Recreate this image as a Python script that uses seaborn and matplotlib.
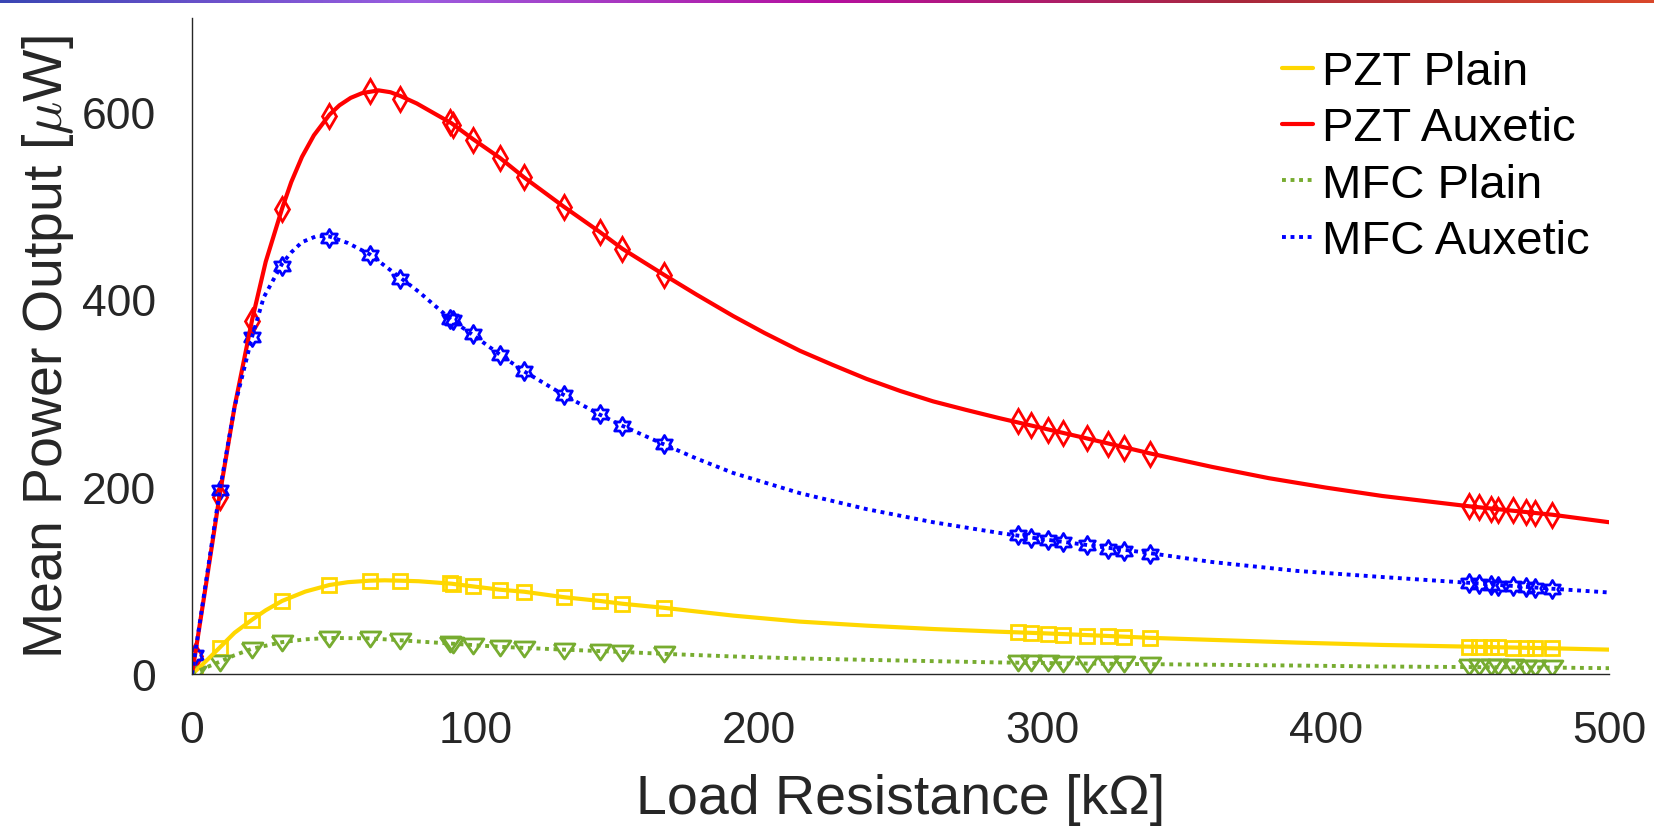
import numpy as np
import pandas as pd
import matplotlib
matplotlib.use("Agg")
import matplotlib.pyplot as plt
from matplotlib.colors import LinearSegmentedColormap
from matplotlib.path import Path
import seaborn as sns

# measured load resistances [kOhm]
r_meas = [1, 9.7, 21.2, 31.8, 48.5, 62.7, 73.5, 91, 92, 99.1, 108.6, 117.2, 131.1, 143.8, 151.8, 166.6,
          291.6, 296.2, 301.9, 307.4, 315.7, 323.1, 328.8, 338,
          450.7, 454.2, 458.3, 460.9, 466.2, 470.6, 473.9, 480]

# measured mean power [uW]
pzt_plain_meas = [2.5, 28, 58, 78, 95, 99.6, 99.6, 96.6, 96.2, 93.5, 90, 87.8, 82, 78, 75, 70.6,
                  44.5, 43.7, 43, 41.9, 40.8, 40.2, 39.8, 38.4,
                  29, 29, 28.3, 28.3, 27.9, 27.9, 27.6, 27.3]
pzt_aux_meas = [19.4, 188.5, 377, 496, 596, 622, 614, 589, 586, 570, 551, 530, 499, 472, 454, 426,
                270.2, 265.9, 260.5, 257.7, 251.6, 245.5, 241.6, 235.2,
                179.4, 178.4, 176.6, 175.5, 174.8, 173, 172, 170.1]
mfc_plain_meas = [0.5, 12, 26, 33, 37.5, 37, 35, 31.5, 31.2, 29.5, 28, 26.8, 25, 23, 22.3, 20.8,
                  11.8, 11.6, 11.3, 11.0, 10.7, 10.4, 10.2, 9.9,
                  7.4, 7.3, 7.2, 7.1, 7.0, 6.9, 6.8, 6.7]
mfc_aux_meas = [20, 196, 360, 436, 465, 447, 422, 379, 377.5, 362.5, 340, 323, 298, 277, 264.5, 245,
                148, 145.2, 143, 140.9, 137.3, 133, 131.3, 128.4,
                97.3, 96.2, 95.1, 94.4, 93.7, 92.7, 91.6, 90.9]

# fitted curves
pzt_plain_r = [0, 1, 5, 9.7, 15, 21.2, 26, 31.8, 40, 48.5, 55, 62.7, 68, 73.5, 80, 91.5, 99.1, 108.6, 117.2,
               131.1, 143.8, 151.8, 166.6, 191, 214.5, 238, 261.5, 285, 300, 320, 338, 360, 390, 420, 450, 480, 500]
pzt_plain_p = [0, 2.5, 14, 28, 44, 58, 68, 78, 88, 95, 98, 99.6, 100, 99.6, 99, 96.4, 93.5, 90, 87.8,
               82, 78, 75, 70.6, 62.3, 55.9, 51.6, 48, 45.1, 43.5, 41, 38.6, 36.4, 33.5, 31, 29.2, 27.4, 26]

pzt_aux_r = [0, 1, 5, 9.7, 15, 21.2, 26, 31.8, 35, 38.8, 43, 48.5, 52, 56, 60, 65.8, 70, 73.5, 79.3,
             91.5, 99.1, 108.6, 117.2, 131.1, 143.8, 151.8, 166.6, 178, 191, 202, 214.5, 226, 238, 250,
             261.5, 273, 285, 300, 315.7, 338, 360, 380, 400, 420, 450.7, 480, 500]
pzt_aux_p = [0, 19, 97, 190, 285, 378, 440, 497, 525, 552, 575, 597, 607, 615, 620, 623, 621, 617, 609,
             588, 571, 551, 530, 499, 472, 454, 426, 405, 382, 364, 345, 330, 315, 302,
             291, 282, 273, 262.5, 251.5, 235.5, 221, 209, 199, 190, 179, 170, 162]

mfc_plain_r = [0, 1, 5, 9.7, 15, 21.2, 31.8, 40, 48.5, 62.7, 73.5, 91, 108.6, 131.1, 151.8, 166.6,
               191, 214.5, 238, 261.5, 285, 320, 355, 390, 420, 450, 480, 500]
mfc_plain_p = [0, 1.5, 7, 13, 20, 27, 34, 37, 38.5, 38, 36, 32.5, 29, 26, 23.5, 21.5,
               18.7, 16.6, 15.1, 13.7, 12.3, 11, 10, 9, 8, 7.4, 6.8, 6.2]

mfc_aux_r = [0, 1, 5, 9.7, 15, 21.2, 25.3, 31.8, 35, 38.8, 44, 48.5, 55, 62.7, 73.5, 80, 91.5, 99.1, 108.6,
             117.2, 131.1, 143.8, 151.8, 166.6, 178, 191, 214.5, 238, 261.5, 285, 300, 320, 338, 360, 390,
             420, 450.7, 480, 500]
mfc_aux_p = [0, 20, 100, 194, 285, 360, 402, 438, 450, 461, 467.5, 467, 460, 448, 423, 408, 378, 362, 341,
             323, 298, 277, 265, 245, 230, 214.5, 193, 176, 162, 150.5, 144, 136, 129, 119.5, 110,
             103.5, 97.3, 91, 87]

names = ["PZT Plain", "PZT Auxetic", "MFC Plain", "MFC Auxetic"]
colors = ["#FFD700", "#FF0000", "#77AC30", "#0000FF"]

sns.set_theme(style="white")
plt.rcParams["font.family"] = ["Liberation Sans", "DejaVu Sans"]
plt.rcParams["mathtext.fontset"] = "cm"
plt.rcParams["axes.edgecolor"] = "#262626"

fig = plt.figure(figsize=(16.54, 8.28), dpi=100)
ax = fig.add_axes([0.1161, 0.1848, 0.8567, 0.792])

hexagram = Path.unit_regular_star(6, 0.577)
tri_down = [(-1, 0.72), (1, 0.72), (0, -0.72), (-1, 0.72)]

# measured points
meas = [pzt_plain_meas, pzt_aux_meas, mfc_plain_meas, mfc_aux_meas]
marks = [("s", 9.5), ("d", 12.5), (tri_down, 15), (hexagram, 13)]
for vals, col, (mk, ms) in zip(meas, colors, marks):
    d = pd.DataFrame({"r": r_meas, "p": vals})
    sns.lineplot(data=d, x="r", y="p", ax=ax, estimator=None, sort=False,
                 linestyle="none", marker=mk, markersize=ms, markerfacecolor="none",
                 markeredgecolor=col, markeredgewidth=2.0, color=col)

# fitted curves
curves = [(pzt_plain_r, pzt_plain_p, "-", 3.0), (pzt_aux_r, pzt_aux_p, "-", 3.0),
          (mfc_plain_r, mfc_plain_p, (0, (1, 1.2)), 2.8), (mfc_aux_r, mfc_aux_p, (0, (1, 1.2)), 2.8)]
handles = []
for (rr, pp, ls, lw), col, nm in zip(curves, colors, names):
    d = pd.DataFrame({"r": rr, "p": pp})
    sns.lineplot(data=d, x="r", y="p", ax=ax, estimator=None, sort=False,
                 color=col, linestyle=ls, linewidth=lw)
    handles.append(ax.lines[-1])

ax.set_xlim(0, 500)
ax.set_ylim(0, 700)
ax.set_xticks([0, 100, 200, 300, 400, 500])
ax.set_yticks([0, 200, 400, 600])
ax.tick_params(axis="both", direction="out", length=10, width=1, color="#262626",
               labelsize=32, labelcolor="#262626", pad=16)
for s in ["top", "right"]:
    ax.spines[s].set_visible(False)
for s in ["left", "bottom"]:
    ax.spines[s].set_linewidth(1)

ax.set_xlabel("Load Resistance [kΩ]", fontsize=40, color="#262626", labelpad=16)
ax.set_ylabel(r"Mean Power Output [$\mu$W]", fontsize=40, color="#262626", labelpad=4)

leg = ax.legend(handles, names, loc="upper right", bbox_to_anchor=(1.0, 0.98),
                frameon=False, fontsize=34, handlelength=0.65, handletextpad=0.2,
                labelspacing=0.26, borderaxespad=0.2, borderpad=0.2)
for t in leg.get_texts():
    t.set_color("black")

# gradient strip along the top edge
cmap = LinearSegmentedColormap.from_list(
    "strip", ["#3a46b4", "#9b5de0", "#b5109f", "#a8283c", "#d9472a"])
bar = fig.add_axes([0, 0.995, 1, 0.005])
bar.imshow(np.linspace(0, 1, 512)[None, :], aspect="auto", cmap=cmap)
bar.set_axis_off()

fig.savefig("out.png", dpi=100)
